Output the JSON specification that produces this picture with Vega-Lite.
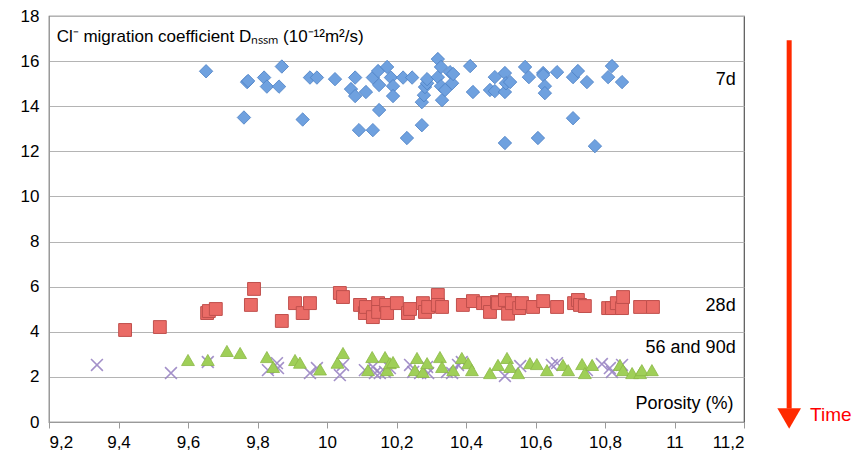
{
  "$schema": "https://vega.github.io/schema/vega-lite/v6.json",
  "autosize": "none",
  "width": 695,
  "height": 406,
  "padding": {"left": 49, "top": 16, "right": 111, "bottom": 41},
  "background": "white",
  "config": {
    "view": {"stroke": "#555555", "strokeWidth": 1.2},
    "font": "Liberation Sans",
    "axis": {"labelFont": "Liberation Sans", "labelColor": "#000000", "labelFontSize": 17, "title": null, "domainColor": "#9a9a9a", "tickColor": "#9a9a9a", "gridColor": "#b4b4b4", "gridWidth": 1.2}
  },
  "datasets": {
    "notes": [
      {"k": "title", "label": "Cl⁻ migration coefficient Dₙₛₛₘ (10⁻¹²m²/s)", "x": 9.222, "y": 17.05},
      {"k": "r", "label": "7d", "x": 11.176, "y": 15.16},
      {"k": "r", "label": "28d", "x": 11.176, "y": 5.14},
      {"k": "r", "label": "56 and 90d", "x": 11.176, "y": 3.3},
      {"k": "r", "label": "Porosity (%)", "x": 11.17, "y": 0.8},
      {"k": "time", "label": "Time", "x": 11.39, "y": 0.3}
    ],
    "arrow": [
      {"x": 11.33, "y": 16.93, "y2": 0.6, "tip": 0.16}
    ],
    "pts": [
      {"s": "7d", "x": 9.652, "y": 15.55},
      {"s": "7d", "x": 9.761, "y": 13.5},
      {"s": "7d", "x": 9.77, "y": 15.07},
      {"s": "7d", "x": 9.773, "y": 15.12},
      {"s": "7d", "x": 9.819, "y": 15.27},
      {"s": "7d", "x": 9.827, "y": 14.87},
      {"s": "7d", "x": 9.862, "y": 14.87},
      {"s": "7d", "x": 9.87, "y": 15.76},
      {"s": "7d", "x": 9.93, "y": 13.41},
      {"s": "7d", "x": 9.951, "y": 15.27},
      {"s": "7d", "x": 9.971, "y": 15.27},
      {"s": "7d", "x": 10.023, "y": 15.2},
      {"s": "7d", "x": 10.069, "y": 14.76},
      {"s": "7d", "x": 10.081, "y": 15.27},
      {"s": "7d", "x": 10.081, "y": 14.45},
      {"s": "7d", "x": 10.092, "y": 12.94},
      {"s": "7d", "x": 10.112, "y": 14.63},
      {"s": "7d", "x": 10.132, "y": 12.94},
      {"s": "7d", "x": 10.132, "y": 15.27},
      {"s": "7d", "x": 10.147, "y": 15.56},
      {"s": "7d", "x": 10.15, "y": 14.94},
      {"s": "7d", "x": 10.15, "y": 13.83},
      {"s": "7d", "x": 10.173, "y": 15.74},
      {"s": "7d", "x": 10.184, "y": 15.27},
      {"s": "7d", "x": 10.19, "y": 14.89},
      {"s": "7d", "x": 10.19, "y": 14.45},
      {"s": "7d", "x": 10.219, "y": 15.27},
      {"s": "7d", "x": 10.23, "y": 12.59},
      {"s": "7d", "x": 10.245, "y": 15.27},
      {"s": "7d", "x": 10.273, "y": 14.18},
      {"s": "7d", "x": 10.273, "y": 13.16},
      {"s": "7d", "x": 10.279, "y": 14.49},
      {"s": "7d", "x": 10.282, "y": 14.85},
      {"s": "7d", "x": 10.288, "y": 15.02},
      {"s": "7d", "x": 10.288, "y": 15.2},
      {"s": "7d", "x": 10.319, "y": 16.09},
      {"s": "7d", "x": 10.319, "y": 15.29},
      {"s": "7d", "x": 10.328, "y": 15.74},
      {"s": "7d", "x": 10.328, "y": 14.89},
      {"s": "7d", "x": 10.331, "y": 14.27},
      {"s": "7d", "x": 10.34, "y": 14.72},
      {"s": "7d", "x": 10.354, "y": 15.51},
      {"s": "7d", "x": 10.36, "y": 15.02},
      {"s": "7d", "x": 10.363, "y": 15.43},
      {"s": "7d", "x": 10.412, "y": 15.78},
      {"s": "7d", "x": 10.42, "y": 14.63},
      {"s": "7d", "x": 10.469, "y": 14.72},
      {"s": "7d", "x": 10.483, "y": 15.29},
      {"s": "7d", "x": 10.483, "y": 14.67},
      {"s": "7d", "x": 10.512, "y": 15.47},
      {"s": "7d", "x": 10.512, "y": 14.63},
      {"s": "7d", "x": 10.512, "y": 12.37},
      {"s": "7d", "x": 10.515, "y": 15.02},
      {"s": "7d", "x": 10.527, "y": 15.07},
      {"s": "7d", "x": 10.57, "y": 15.74},
      {"s": "7d", "x": 10.581, "y": 15.29},
      {"s": "7d", "x": 10.607, "y": 12.59},
      {"s": "7d", "x": 10.622, "y": 15.47},
      {"s": "7d", "x": 10.622, "y": 15.38},
      {"s": "7d", "x": 10.627, "y": 14.89},
      {"s": "7d", "x": 10.627, "y": 14.58},
      {"s": "7d", "x": 10.662, "y": 15.51},
      {"s": "7d", "x": 10.708, "y": 15.29},
      {"s": "7d", "x": 10.708, "y": 13.47},
      {"s": "7d", "x": 10.722, "y": 15.56},
      {"s": "7d", "x": 10.748, "y": 15.07},
      {"s": "7d", "x": 10.771, "y": 12.23},
      {"s": "7d", "x": 10.809, "y": 15.29},
      {"s": "7d", "x": 10.82, "y": 15.78},
      {"s": "7d", "x": 10.849, "y": 15.07},

      {"s": "28d", "x": 9.419, "y": 4.08},
      {"s": "28d", "x": 9.519, "y": 4.21},
      {"s": "28d", "x": 9.655, "y": 4.83},
      {"s": "28d", "x": 9.66, "y": 4.92},
      {"s": "28d", "x": 9.68, "y": 5.01},
      {"s": "28d", "x": 9.781, "y": 5.19},
      {"s": "28d", "x": 9.79, "y": 5.9},
      {"s": "28d", "x": 9.87, "y": 4.48},
      {"s": "28d", "x": 9.908, "y": 5.27},
      {"s": "28d", "x": 9.93, "y": 4.83},
      {"s": "28d", "x": 9.951, "y": 5.27},
      {"s": "28d", "x": 10.037, "y": 5.72},
      {"s": "28d", "x": 10.046, "y": 5.54},
      {"s": "28d", "x": 10.095, "y": 5.19},
      {"s": "28d", "x": 10.109, "y": 4.83},
      {"s": "28d", "x": 10.112, "y": 5.1},
      {"s": "28d", "x": 10.132, "y": 4.65},
      {"s": "28d", "x": 10.147, "y": 5.27},
      {"s": "28d", "x": 10.147, "y": 4.88},
      {"s": "28d", "x": 10.17, "y": 5.19},
      {"s": "28d", "x": 10.173, "y": 4.83},
      {"s": "28d", "x": 10.201, "y": 5.27},
      {"s": "28d", "x": 10.233, "y": 4.83},
      {"s": "28d", "x": 10.239, "y": 5.01},
      {"s": "28d", "x": 10.276, "y": 5.27},
      {"s": "28d", "x": 10.282, "y": 4.88},
      {"s": "28d", "x": 10.291, "y": 5.1},
      {"s": "28d", "x": 10.319, "y": 5.63},
      {"s": "28d", "x": 10.319, "y": 5.19},
      {"s": "28d", "x": 10.331, "y": 5.1},
      {"s": "28d", "x": 10.391, "y": 5.19},
      {"s": "28d", "x": 10.42, "y": 5.36},
      {"s": "28d", "x": 10.449, "y": 5.27},
      {"s": "28d", "x": 10.463, "y": 5.27},
      {"s": "28d", "x": 10.469, "y": 4.88},
      {"s": "28d", "x": 10.489, "y": 5.32},
      {"s": "28d", "x": 10.492, "y": 5.27},
      {"s": "28d", "x": 10.512, "y": 5.41},
      {"s": "28d", "x": 10.521, "y": 4.8},
      {"s": "28d", "x": 10.532, "y": 5.27},
      {"s": "28d", "x": 10.553, "y": 5.05},
      {"s": "28d", "x": 10.561, "y": 5.27},
      {"s": "28d", "x": 10.593, "y": 5.1},
      {"s": "28d", "x": 10.622, "y": 5.36},
      {"s": "28d", "x": 10.662, "y": 5.1},
      {"s": "28d", "x": 10.711, "y": 5.27},
      {"s": "28d", "x": 10.722, "y": 5.41},
      {"s": "28d", "x": 10.728, "y": 5.19},
      {"s": "28d", "x": 10.742, "y": 5.14},
      {"s": "28d", "x": 10.809, "y": 5.05},
      {"s": "28d", "x": 10.82, "y": 5.05},
      {"s": "28d", "x": 10.834, "y": 5.27},
      {"s": "28d", "x": 10.849, "y": 5.05},
      {"s": "28d", "x": 10.852, "y": 5.54},
      {"s": "28d", "x": 10.901, "y": 5.1},
      {"s": "28d", "x": 10.938, "y": 5.1},

      {"s": "90d", "x": 9.338, "y": 2.53},
      {"s": "90d", "x": 9.551, "y": 2.17},
      {"s": "90d", "x": 9.657, "y": 2.66},
      {"s": "90d", "x": 9.83, "y": 2.3},
      {"s": "90d", "x": 9.856, "y": 2.61},
      {"s": "90d", "x": 9.859, "y": 2.39},
      {"s": "90d", "x": 9.951, "y": 2.17},
      {"s": "90d", "x": 9.971, "y": 2.39},
      {"s": "90d", "x": 10.037, "y": 2.08},
      {"s": "90d", "x": 10.046, "y": 2.53},
      {"s": "90d", "x": 10.109, "y": 2.3},
      {"s": "90d", "x": 10.132, "y": 2.44},
      {"s": "90d", "x": 10.138, "y": 2.17},
      {"s": "90d", "x": 10.152, "y": 2.17},
      {"s": "90d", "x": 10.167, "y": 2.22},
      {"s": "90d", "x": 10.181, "y": 2.39},
      {"s": "90d", "x": 10.239, "y": 2.53},
      {"s": "90d", "x": 10.248, "y": 2.22},
      {"s": "90d", "x": 10.268, "y": 2.17},
      {"s": "90d", "x": 10.288, "y": 2.44},
      {"s": "90d", "x": 10.291, "y": 2.17},
      {"s": "90d", "x": 10.345, "y": 2.22},
      {"s": "90d", "x": 10.36, "y": 2.17},
      {"s": "90d", "x": 10.377, "y": 2.53},
      {"s": "90d", "x": 10.388, "y": 2.66},
      {"s": "90d", "x": 10.512, "y": 2.04},
      {"s": "90d", "x": 10.556, "y": 2.48},
      {"s": "90d", "x": 10.647, "y": 2.53},
      {"s": "90d", "x": 10.662, "y": 2.61},
      {"s": "90d", "x": 10.748, "y": 2.3},
      {"s": "90d", "x": 10.791, "y": 2.57},
      {"s": "90d", "x": 10.814, "y": 2.39},
      {"s": "90d", "x": 10.82, "y": 2.22},
      {"s": "90d", "x": 10.849, "y": 2.53},

      {"s": "56d", "x": 9.6, "y": 2.75},
      {"s": "56d", "x": 9.657, "y": 2.75},
      {"s": "56d", "x": 9.712, "y": 3.15},
      {"s": "56d", "x": 9.75, "y": 3.06},
      {"s": "56d", "x": 9.827, "y": 2.88},
      {"s": "56d", "x": 9.845, "y": 2.44},
      {"s": "56d", "x": 9.908, "y": 2.75},
      {"s": "56d", "x": 9.922, "y": 2.63},
      {"s": "56d", "x": 9.98, "y": 2.33},
      {"s": "56d", "x": 10.03, "y": 2.63},
      {"s": "56d", "x": 10.046, "y": 3.06},
      {"s": "56d", "x": 10.118, "y": 2.3},
      {"s": "56d", "x": 10.13, "y": 2.88},
      {"s": "56d", "x": 10.167, "y": 2.88},
      {"s": "56d", "x": 10.173, "y": 2.3},
      {"s": "56d", "x": 10.181, "y": 2.61},
      {"s": "56d", "x": 10.19, "y": 2.66},
      {"s": "56d", "x": 10.253, "y": 2.3},
      {"s": "56d", "x": 10.259, "y": 2.84},
      {"s": "56d", "x": 10.276, "y": 2.22},
      {"s": "56d", "x": 10.288, "y": 2.61},
      {"s": "56d", "x": 10.325, "y": 2.88},
      {"s": "56d", "x": 10.331, "y": 2.44},
      {"s": "56d", "x": 10.363, "y": 2.3},
      {"s": "56d", "x": 10.388, "y": 2.84},
      {"s": "56d", "x": 10.406, "y": 2.61},
      {"s": "56d", "x": 10.417, "y": 2.3},
      {"s": "56d", "x": 10.469, "y": 2.17},
      {"s": "56d", "x": 10.492, "y": 2.53},
      {"s": "56d", "x": 10.518, "y": 2.84},
      {"s": "56d", "x": 10.527, "y": 2.44},
      {"s": "56d", "x": 10.55, "y": 2.17},
      {"s": "56d", "x": 10.584, "y": 2.61},
      {"s": "56d", "x": 10.604, "y": 2.57},
      {"s": "56d", "x": 10.633, "y": 2.3},
      {"s": "56d", "x": 10.679, "y": 2.53},
      {"s": "56d", "x": 10.694, "y": 2.3},
      {"s": "56d", "x": 10.734, "y": 2.57},
      {"s": "56d", "x": 10.742, "y": 2.17},
      {"s": "56d", "x": 10.763, "y": 2.53},
      {"s": "56d", "x": 10.843, "y": 2.53},
      {"s": "56d", "x": 10.852, "y": 2.3},
      {"s": "56d", "x": 10.878, "y": 2.17},
      {"s": "56d", "x": 10.901, "y": 2.17},
      {"s": "56d", "x": 10.906, "y": 2.3},
      {"s": "56d", "x": 10.935, "y": 2.3}
    ]
  },
  "layer": [
    {"data": {"name": "pts"},
     "transform": [{"filter": "datum.s == '7d'"}],
     "mark": {"type": "point", "shape": "diamond", "filled": true, "size": 180, "fill": "#6fa1df", "stroke": "#4a7fc4", "strokeWidth": 0.8, "opacity": 1},
     "encoding": {
       "x": {"field": "x", "type": "quantitative", "scale": {"domain": [9.2, 11.2], "nice": false, "zero": false},
         "axis": {"values": [9.2, 9.4, 9.6, 9.8, 10, 10.2, 10.4, 10.6, 10.8, 11, 11.2], "grid": false, "tickSize": 6, "labelPadding": 6, "labelExpr": "replace('' + round(datum.value*10)/10, '.', ',')"}},
       "y": {"field": "y", "type": "quantitative", "scale": {"domain": [0, 18], "nice": false},
         "axis": {"values": [0, 2, 4, 6, 8, 10, 12, 14, 16, 18], "ticks": false, "labelPadding": 10, "grid": true}}
     }},
    {"data": {"name": "pts"},
     "transform": [{"filter": "datum.s == '28d'"}],
     "mark": {"type": "point", "shape": "square", "filled": true, "size": 165, "fill": "#ea6b66", "stroke": "#c0504d", "strokeWidth": 1, "opacity": 1},
     "encoding": {"x": {"field": "x", "type": "quantitative"}, "y": {"field": "y", "type": "quantitative"}}},
    {"data": {"name": "pts"},
     "transform": [{"filter": "datum.s == '90d'"}],
     "mark": {"type": "point", "shape": "M -1 -1 L 1 1 M -1 1 L 1 -1", "filled": false, "size": 140, "stroke": "#9a85c4", "strokeWidth": 1.6, "opacity": 0.9},
     "encoding": {"x": {"field": "x", "type": "quantitative"}, "y": {"field": "y", "type": "quantitative"}}},
    {"data": {"name": "pts"},
     "transform": [{"filter": "datum.s == '56d'"}],
     "mark": {"type": "point", "shape": "triangle-up", "filled": true, "size": 165, "fill": "#9fcf58", "stroke": "#8ab845", "strokeWidth": 0.8, "opacity": 1},
     "encoding": {"x": {"field": "x", "type": "quantitative"}, "y": {"field": "y", "type": "quantitative"}}},
    {"data": {"name": "notes"},
     "transform": [{"filter": "datum.k == 'title'"}],
     "mark": {"type": "text", "align": "left", "baseline": "middle", "fontSize": 17, "color": "#000000"},
     "encoding": {"x": {"field": "x", "type": "quantitative"}, "y": {"field": "y", "type": "quantitative"}, "text": {"field": "label"}}},
    {"data": {"name": "notes"},
     "transform": [{"filter": "datum.k == 'r'"}],
     "mark": {"type": "text", "align": "right", "baseline": "middle", "fontSize": 18, "color": "#000000"},
     "encoding": {"x": {"field": "x", "type": "quantitative"}, "y": {"field": "y", "type": "quantitative"}, "text": {"field": "label"}}},
    {"data": {"name": "arrow"},
     "mark": {"type": "rule", "color": "#ff2a00", "strokeWidth": 5, "clip": false},
     "encoding": {"x": {"field": "x", "type": "quantitative"}, "y": {"field": "y", "type": "quantitative"}, "y2": {"field": "y2"}}},
    {"data": {"name": "arrow"},
     "mark": {"type": "point", "shape": "triangle-down", "filled": true, "size": 560, "color": "#ff2a00", "opacity": 1, "clip": false},
     "encoding": {"x": {"field": "x", "type": "quantitative"}, "y": {"field": "tip", "type": "quantitative"}}},
    {"data": {"name": "notes"},
     "transform": [{"filter": "datum.k == 'time'"}],
     "mark": {"type": "text", "align": "left", "baseline": "middle", "fontSize": 19, "color": "#ff0000", "clip": false},
     "encoding": {"x": {"field": "x", "type": "quantitative"}, "y": {"field": "y", "type": "quantitative"}, "text": {"field": "label"}}}
  ]
}
